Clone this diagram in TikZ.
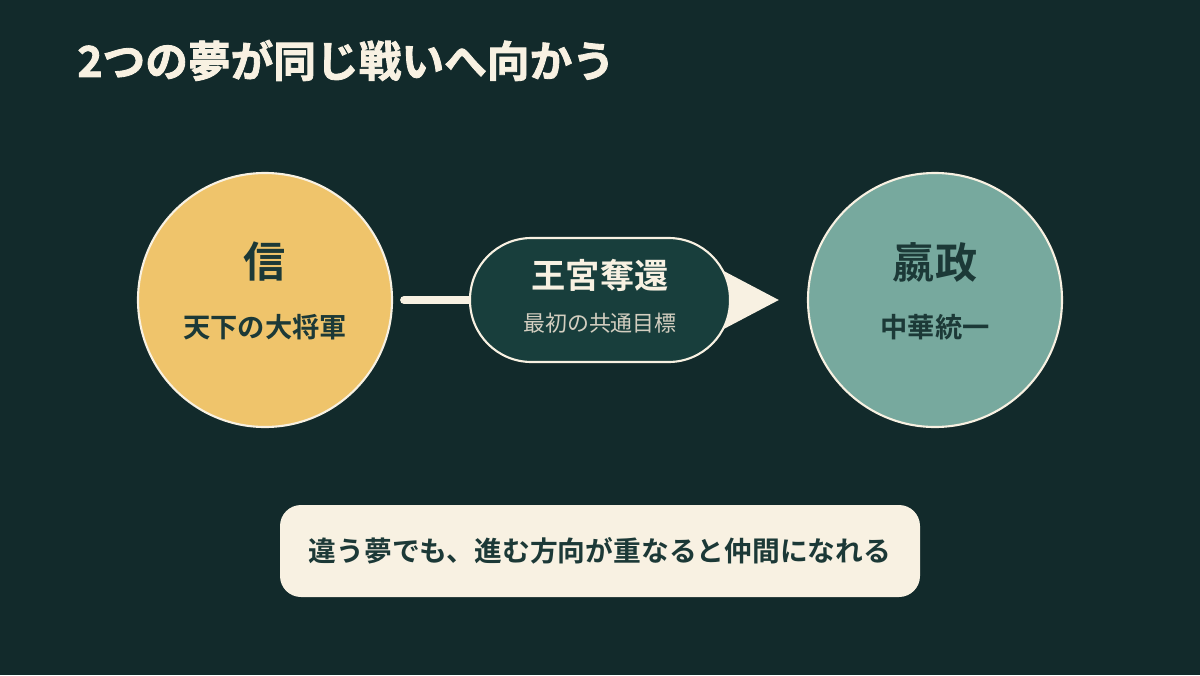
\documentclass[tikz,border=0pt]{standalone}
\usepackage{fontspec}
\setmainfont{Noto Sans CJK JP}[BoldFont={Noto Sans CJK JP Bold}]
\newfontfamily\blackfont{Noto Sans CJK JP Bold}[FakeBold=2]
\usetikzlibrary{arrows.meta}
\definecolor{bgcol}{HTML}{122A2B}
\definecolor{cream}{HTML}{F8F1E2}
\definecolor{gold}{HTML}{EFC46B}
\definecolor{sage}{HTML}{77A99E}
\definecolor{pillcol}{HTML}{183E3C}
\definecolor{inkcol}{HTML}{1C3937}
\definecolor{subcol}{HTML}{D3CEC0}
\tikzset{
  dream/.style={circle,draw=cream,line width=1.2pt,minimum size=5.08cm,inner sep=0pt},
  bigname/.style={text=inkcol,font=\bfseries\fontsize{24}{28}\selectfont},
  smallname/.style={text=inkcol,font=\bfseries\fontsize{15.5}{18}\selectfont},
}
\begin{document}
\begin{tikzpicture}
% Background and frame
\fill[bgcol] (0,0) rectangle (24,13.5);
\useasboundingbox (0,0) rectangle (24,13.5);
% Title
\node[anchor=base west,inner sep=0pt,text=cream,font=\blackfont\fontsize{24.3}{28}\selectfont]
  (title) at (1.54,11.96) {2つの夢が同じ戦いへ向かう};
% Two dreams
\node[dream,fill=gold] (shin) at (5.3,7.5) {};
\node[dream,fill=sage] (eisei) at (18.7,7.5) {};
\node[bigname] at ([yshift=7.6mm]shin.center) {信};
\node[smallname] at ([yshift=-5.4mm]shin.center) {天下の大将軍};
\node[bigname] at ([yshift=7.6mm]eisei.center) {嬴政};
\node[smallname] at ([yshift=-5.4mm]eisei.center) {中華統一};
% Shared path with arrow tip
\coordinate (start) at ([xshift=2.2mm]shin.east);
\coordinate (stop) at ([xshift=-5.6mm]eisei.west);
\draw[cream,line width=4.5pt,line cap=round,
  -{Triangle[length=1.6cm,width=1.64cm]}] (start) -- (stop);
% Common goal
\node[rectangle,rounded corners=1.23cm,draw=cream,line width=1.2pt,fill=pillcol,
  minimum width=5.2cm,minimum height=2.48cm] (goal) at (12,7.5) {};
\node[text=cream,font=\bfseries\fontsize{19.5}{22}\selectfont]
  at ([yshift=5mm]goal.center) {王宮奪還};
\node[text=subcol,font=\fontsize{12.5}{15}\selectfont]
  at ([yshift=-4.6mm]goal.center) {最初の共通目標};
% Message box
\node[draw=none,fill=cream,rounded corners=0.42cm,minimum width=12.8cm,
  minimum height=1.84cm,text=inkcol,font=\bfseries\fontsize{15.8}{18}\selectfont]
  (note) at (12,2.48) {違う夢でも、進む方向が重なると仲間になれる};
\end{tikzpicture}
\end{document}
